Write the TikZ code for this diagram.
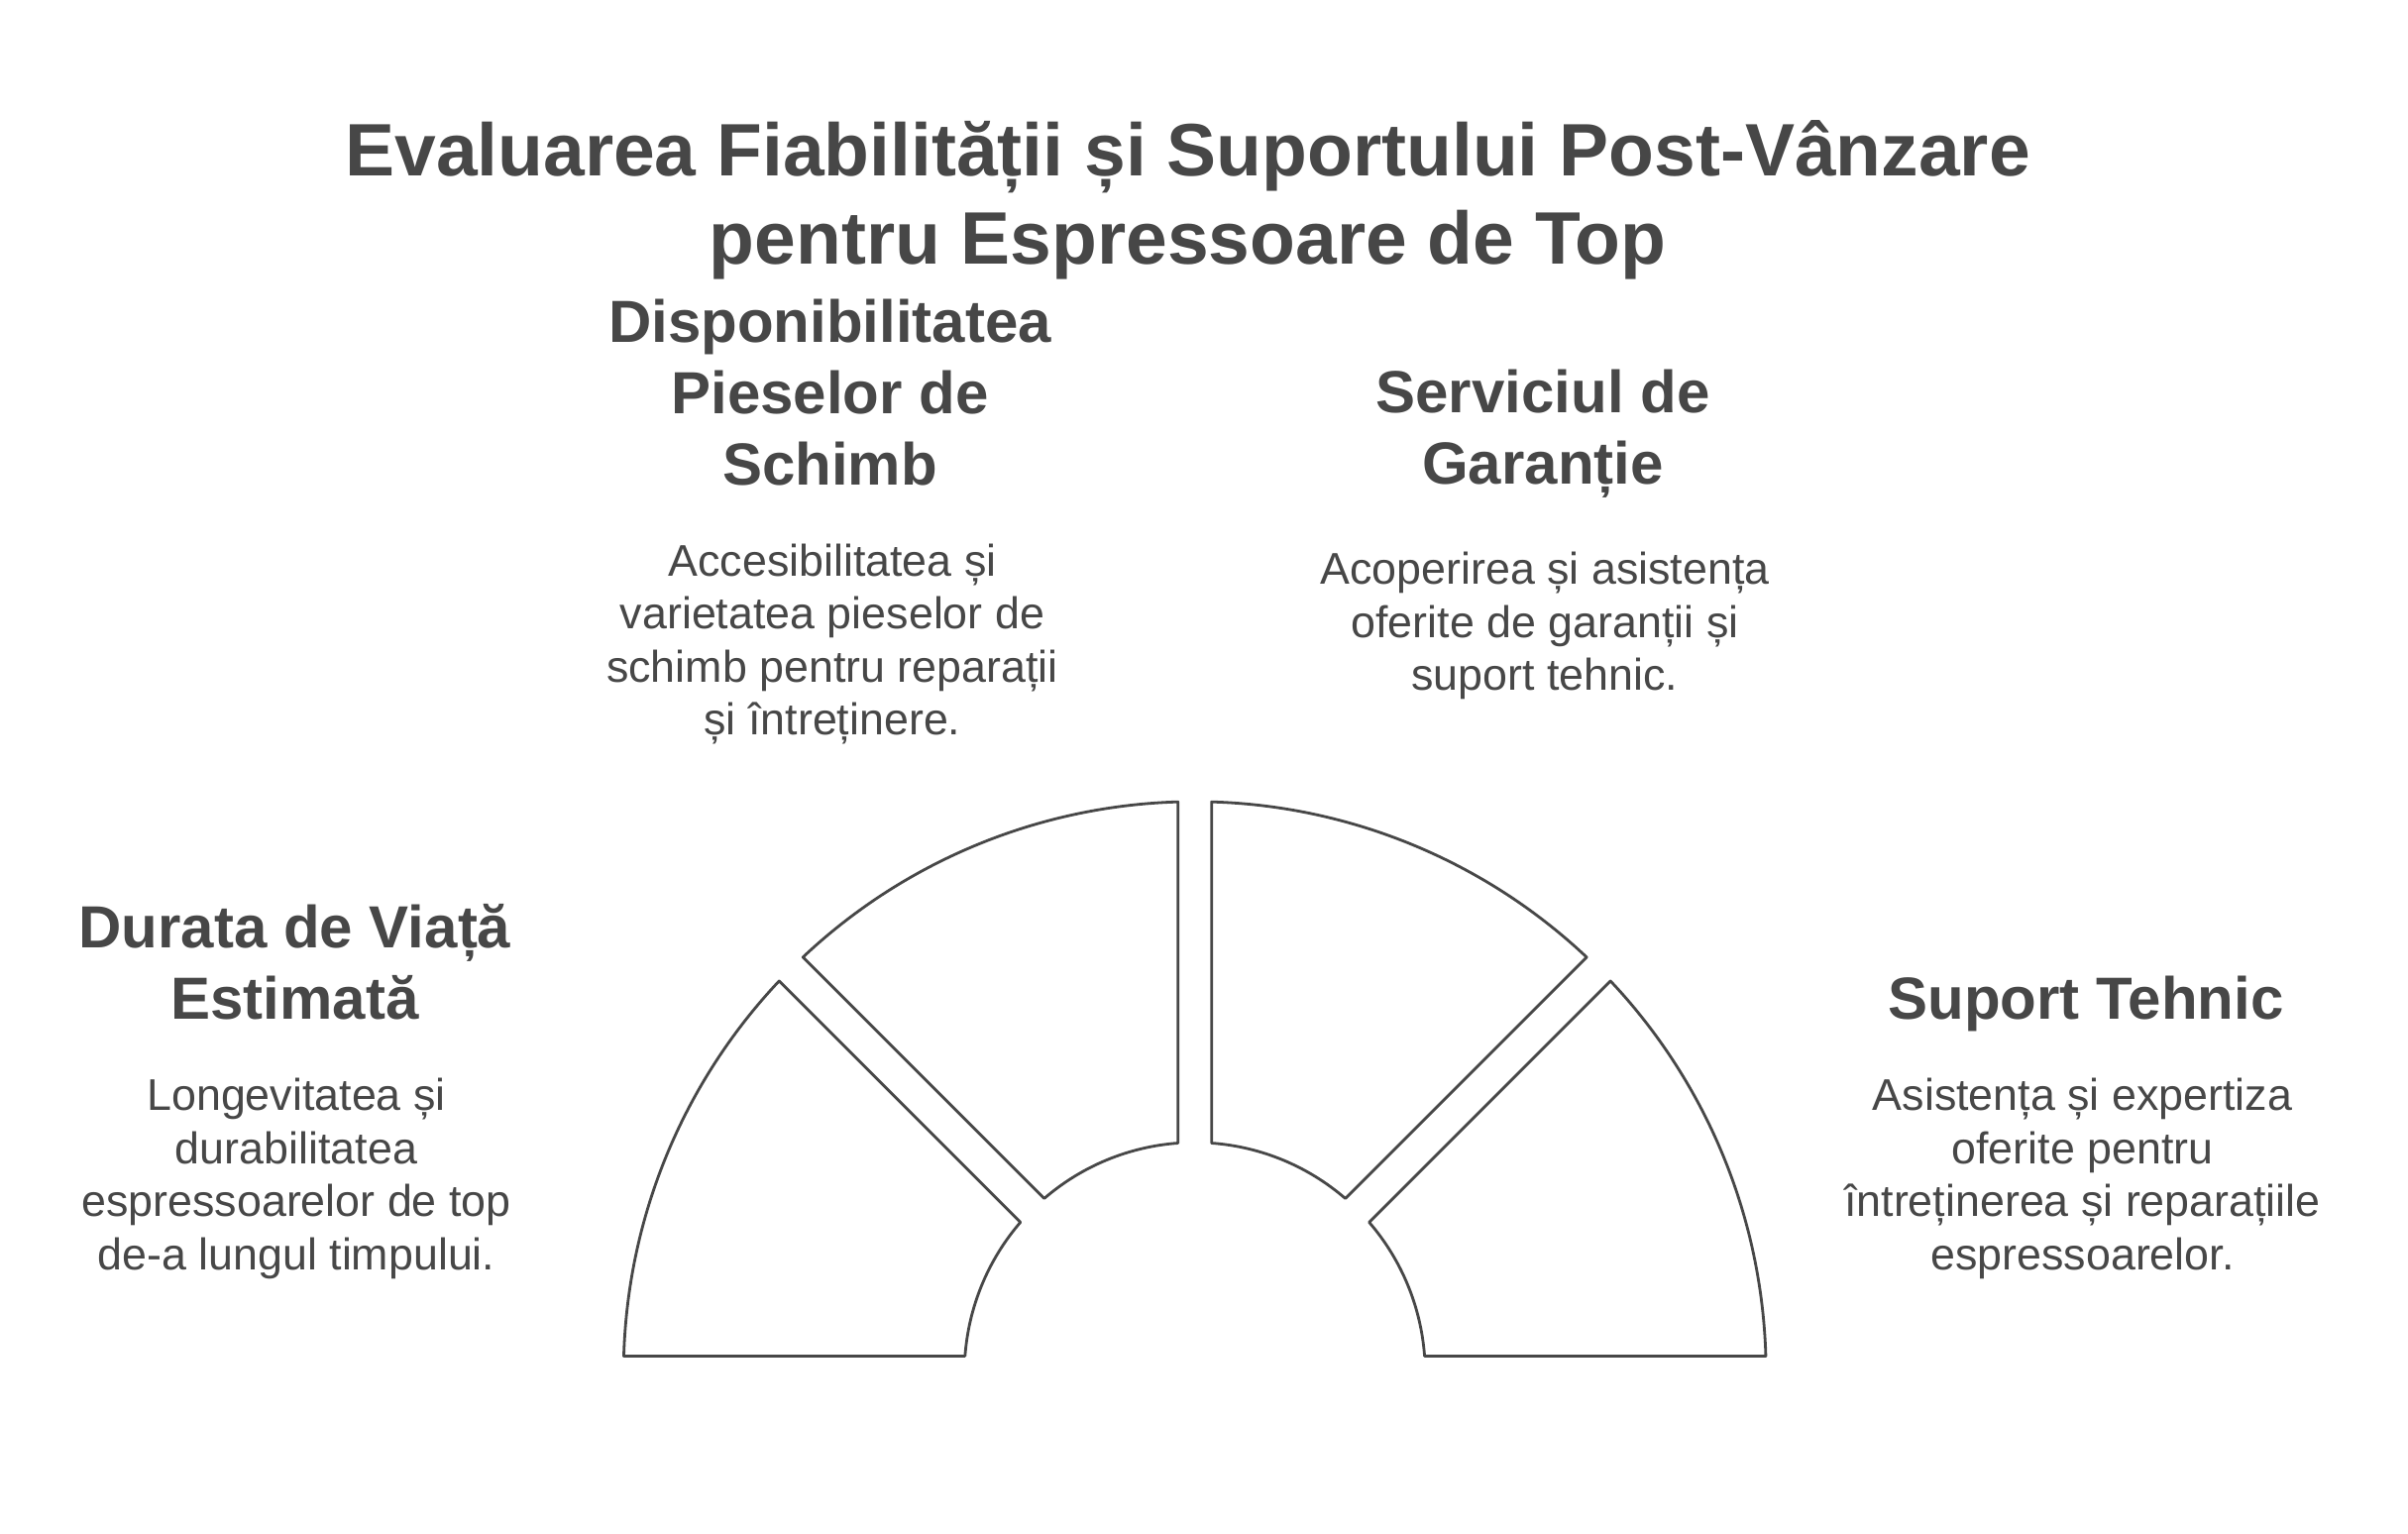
\documentclass[tikz,border=0pt]{standalone}
\usepackage{fontspec}
\setmainfont{Liberation Sans}
\definecolor{ink}{HTML}{474747}
\begin{document}
\begin{tikzpicture}[x=0.5pt,y=0.5pt,
  seg/.style={draw=ink, line width=1.4pt, fill=white, line join=round},
  ttl/.style={text=ink, align=center, inner sep=0pt, font=\fontsize{37.5}{44.5}\selectfont\bfseries},
  head/.style={text=ink, align=center, inner sep=0pt, font=\fontsize{30}{36}\selectfont\bfseries},
  body/.style={text=ink, align=center, inner sep=0pt, font=\fontsize{22.4}{26.8}\selectfont}]
\useasboundingbox (0,0) rectangle (2430,1547);
\fill[white] (0,0) rectangle (2430,1547);

\node[ttl] (title) at (1198.5,1345) {Evaluarea Fiabilității și Suportului Post-Vânzare\\pentru Espressoare de Top};

\begin{scope}[shift={(1205.7,161.6)}]
  \coordinate (c) at (0,0);
  \draw[seg] (1.69:576.5) arc[start angle=1.69, end angle=43.31, radius=576.5]
    -- (40.81:232.5) arc[start angle=40.81, end angle=4.19, radius=232.5] -- cycle;
  \draw[seg] (46.69:576.5) arc[start angle=46.69, end angle=88.31, radius=576.5]
    -- (85.81:232.5) arc[start angle=85.81, end angle=49.19, radius=232.5] -- cycle;
  \draw[seg] (91.69:576.5) arc[start angle=91.69, end angle=133.31, radius=576.5]
    -- (130.81:232.5) arc[start angle=130.81, end angle=94.19, radius=232.5] -- cycle;
  \draw[seg] (136.69:576.5) arc[start angle=136.69, end angle=178.31, radius=576.5]
    -- (175.81:232.5) arc[start angle=175.81, end angle=139.19, radius=232.5] -- cycle;
\end{scope}

\node[head] (h1) at (297.5,576) {Durata de Viață\\Estimată};
\node[body] (b1) at (299,357.5) {Longevitatea și\\durabilitatea\\espressoarelor de top\\de-a lungul timpului.};

\node[head] (h2) at (837.5,1151) {Disponibilitatea\\Pieselor de\\Schimb};
\node[body] (b2) at (840,897) {Accesibilitatea și\\varietatea pieselor de\\schimb pentru reparații\\și întreținere.};

\node[head] (h3) at (1557,1109) {Serviciul de\\Garanție};
\node[body] (b3) at (1559,915.5) {Acoperirea și asistența\\oferite de garanții și\\suport tehnic.};

\node[head] (h4) at (2105,534) {Suport Tehnic};
\node[body] (b4) at (2101.5,357.5) {Asistența și expertiza\\oferite pentru\\întreținerea și reparațiile\\espressoarelor.};
\end{tikzpicture}
\end{document}
